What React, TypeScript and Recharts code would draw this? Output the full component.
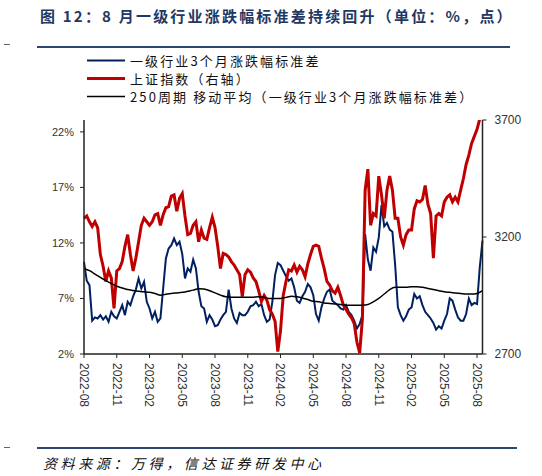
import React from 'react';
import { LineChart, Line, XAxis, YAxis } from 'recharts';

// x = months since 2022-08, one reading per quarter month
const STEP = 0.25;

const xTickLabels = [
  '2022-08', '2022-11', '2023-02', '2023-05', '2023-08', '2023-11', '2024-02',
  '2024-05', '2024-08', '2024-11', '2025-02', '2025-05', '2025-08',
];

const leftTicks = [2, 7, 12, 17, 22];
const rightTicks = [2700, 3200, 3700];

// 一级行业3个月涨跌幅标准差 (%)
const industryStd = [
  10.3, 8.6, 8.2, 5.0, 5.3, 5.2, 5.5, 5.1, 5.4, 4.9, 5.8, 5.4,
  5.2, 5.8, 6.4, 5.5, 6.7, 6.4, 7.2, 7.8, 8.8, 7.9, 8.5, 6.7,
  6.1, 5.2, 5.8, 4.9, 5.2, 7.9, 10.6, 11.5, 11.8, 12.4, 11.8, 12.1,
  11.0, 8.8, 9.7, 9.4, 10.5, 9.7, 7.6, 6.3, 6.1, 4.9, 5.5, 5.1,
  4.5, 4.6, 5.1, 5.5, 5.8, 7.8, 6.1, 5.2, 4.8, 5.7, 5.5, 5.5,
  5.8, 6.3, 6.4, 6.7, 6.3, 6.5, 5.5, 4.9, 5.1, 6.7, 9.1, 10.2,
  10.0, 9.5, 9.0, 8.6, 8.8, 8.0, 6.8, 6.6, 7.2, 7.6, 8.3, 8.0,
  7.3, 5.6, 5.0, 6.2, 7.0, 7.6, 7.8, 6.8, 6.6, 6.4, 6.1, 6.0,
  6.4, 5.8, 5.5, 5.0, 4.3, 4.7, 5.5, 12.8, 10.5, 9.5, 11.6, 11.2,
  12.5, 15.4, 13.5, 13.8, 13.2, 13.0, 10.0, 6.2, 5.5, 5.0, 5.4, 6.0,
  6.2, 7.4, 7.0, 7.2, 6.4, 5.8, 5.5, 5.2, 4.8, 4.2, 4.5, 4.3,
  5.0, 5.6, 7.0, 6.8, 6.0, 5.3, 5.0, 5.0, 5.6, 7.0, 6.4, 6.6,
  6.5, 9.8, 12.2,
];

// 上证指数 (右轴)
const shIndex = [
  3280, 3290, 3265, 3245, 3265, 3240, 3125, 3075, 3010, 3055, 3025, 2895,
  3055, 3065, 3095, 3160, 3210, 3125, 3055, 3110, 3180, 3250, 3280, 3265,
  3250, 3265, 3295, 3300, 3250, 3295, 3325, 3330, 3375, 3380, 3310, 3365,
  3385, 3290, 3210, 3215, 3250, 3265, 3180, 3230, 3195, 3190, 3240, 3285,
  3240, 3160, 3065, 3130, 3125, 3115, 3095, 3080, 3060, 3040, 2945, 3040,
  3060, 3050, 3025, 3010, 2970, 2925, 2950, 2930, 2890, 2870, 2840, 2710,
  2800, 2950, 3010, 3060, 3055, 3080, 3050, 3075, 3060, 3030, 3085, 3125,
  3160, 3165, 3160, 3110, 3065, 3010, 2995, 2970, 2960, 2985, 2950, 2910,
  2890, 2870, 2855, 2830, 2750, 2705, 2850, 3400, 3490, 3250, 3300, 3290,
  3460, 3380, 3280, 3400, 3460, 3400, 3280, 3280, 3200, 3165, 3210, 3230,
  3230, 3320, 3355, 3350, 3360, 3420, 3340, 3300, 3110, 3290, 3300, 3290,
  3350, 3370, 3380, 3350, 3370, 3350, 3400, 3450, 3510, 3550, 3600, 3630,
  3660, 3705, 3760,
];

// 250周期移动平均, one reading per half month
const MA_STEP = 0.5;
const movingAvg = [
  9.7, 9.5, 9.2, 8.9, 8.6, 8.35, 8.1, 7.95, 7.8, 7.72, 7.65, 7.6,
  7.55, 7.45, 7.3, 7.38, 7.45, 7.5, 7.55, 7.65, 7.75, 7.88, 7.85, 7.7,
  7.5, 7.3, 7.15, 7.12, 7.1, 7.1, 7.1, 7.12, 7.15, 7.1, 7.0, 7.0,
  7.0, 7.1, 7.2, 7.15, 7.05, 6.9, 6.75, 6.7, 6.6, 6.55, 6.5, 6.45,
  6.4, 6.4, 6.4, 6.4, 6.45, 6.7, 7.0, 7.4, 7.8, 8.0, 8.0, 8.0,
  8.05, 8.05, 8.0, 7.9, 7.8, 7.7, 7.6, 7.55, 7.5, 7.45, 7.4, 7.4,
  7.45, 7.7,
];

const rows = industryStd.map((v, i) => ({ m: i * STEP, std: v, sh: shIndex[i] }));
const maRows = movingAvg.map((v, i) => ({ m: i * MA_STEP, ma: v }));
const xTicks = xTickLabels.map((_, i) => i * 3);

const BLUE = '#002060';
const RED = '#C00000';
const NAVY = '#1F3864';
const tickFont = '"Liberation Sans", Arial, sans-serif';
const cjkFont = '"Noto Sans CJK SC", sans-serif';

const XTick = (props: any) => {
  const { x, y, payload } = props;
  const label = xTickLabels[Math.round(payload.value / 3)];
  return (
    <text
      transform={`translate(${x},${y + 3}) rotate(90)`}
      textAnchor="start"
      dy="0.35em"
      fontSize={12}
      fontFamily={tickFont}
      fill="#333"
    >
      {label}
    </text>
  );
};

const legendItems = [
  { name: '一级行业3个月涨跌幅标准差', color: BLUE, width: 2, top: 52 },
  { name: '上证指数（右轴）', color: RED, width: 3, top: 70 },
  { name: '250周期 移动平均（一级行业3个月涨跌幅标准差）', color: '#000', width: 1.5, top: 88 },
];

export default function App() {
  return (
    <div style={{ position: 'absolute', left: 0, top: 0, width: 542, height: 476, background: '#fff', overflow: 'hidden' }}>
      <div
        style={{
          position: 'absolute', left: 40, top: 5, fontFamily: cjkFont, fontWeight: 700,
          fontSize: 15, color: NAVY, letterSpacing: 2.2, whiteSpace: 'nowrap', lineHeight: '22px',
        }}
      >
        图 12：8 月一级行业涨跌幅标准差持续回升（单位：%，点）
      </div>
      <div style={{ position: 'absolute', left: 4, top: 44, width: 6, height: 1, background: '#666' }} />
      <div style={{ position: 'absolute', left: 37, top: 46, width: 473, height: 2, background: '#2E4570' }} />

      {legendItems.map((it) => (
        <div key={it.name} style={{ position: 'absolute', left: 87, top: it.top, height: 17, display: 'flex', alignItems: 'center', whiteSpace: 'nowrap' }}>
          <svg width={38} height={17} style={{ display: 'block' }}>
            <line x1={0} x2={38} y1={8.5} y2={8.5} stroke={it.color} strokeWidth={it.width} />
          </svg>
          <span style={{ marginLeft: 5, fontFamily: cjkFont, fontSize: 13, letterSpacing: 2.1, color: '#111', lineHeight: '17px' }}>
            {it.name}
          </span>
        </div>
      ))}

      <div style={{ position: 'absolute', left: 0, top: 0 }}>
        <LineChart width={542} height={476} data={rows} margin={{ top: 120, right: 0, bottom: 0, left: 0 }}>
          <XAxis
            dataKey="m"
            type="number"
            domain={[0, 36.5]}
            ticks={xTicks}
            interval={0}
            height={122}
            tick={<XTick />}
            tickSize={4}
            tickMargin={2}
            axisLine={{ stroke: '#222', strokeWidth: 1.5 }}
            tickLine={{ stroke: '#222' }}
          />
          <YAxis
            yAxisId="left"
            domain={[2, 23.07]}
            ticks={leftTicks}
            interval={0}
            width={84}
            tickSize={4}
            tickMargin={6}
            tickFormatter={(v: number) => `${v}%`}
            tick={{ fontSize: 11, fill: '#333', fontFamily: tickFont }}
            axisLine={{ stroke: '#222', strokeWidth: 1.5 }}
            tickLine={{ stroke: '#222' }}
            allowDataOverflow
          />
          <YAxis
            yAxisId="right"
            orientation="right"
            domain={[2700, 3700]}
            ticks={rightTicks}
            interval={0}
            width={59.5}
            tickSize={4}
            tickMargin={8}
            tick={{ fontSize: 12, fill: '#333', fontFamily: tickFont }}
            axisLine={{ stroke: '#222', strokeWidth: 1.5 }}
            tickLine={{ stroke: '#222' }}
            allowDataOverflow
          />
          <Line yAxisId="left" dataKey="std" stroke={BLUE} strokeWidth={2} dot={false} type="linear" isAnimationActive={false} />
          <Line yAxisId="right" dataKey="sh" stroke={RED} strokeWidth={3} dot={false} type="linear" isAnimationActive={false} />
          <Line yAxisId="left" data={maRows} dataKey="ma" stroke="#000" strokeWidth={1.5} dot={false} type="monotone" isAnimationActive={false} />
        </LineChart>
      </div>

      <div style={{ position: 'absolute', left: 4, top: 447, width: 6, height: 1, background: '#666' }} />
      <div style={{ position: 'absolute', left: 37, top: 447, width: 480, height: 2, background: '#2E4570' }} />
      <div
        style={{
          position: 'absolute', left: 43, top: 453, fontFamily: cjkFont, fontStyle: 'italic',
          fontSize: 14, letterSpacing: 3.6, color: '#111', whiteSpace: 'nowrap', lineHeight: '20px',
        }}
      >
        资料来源：万得，信达证券研发中心
      </div>
    </div>
  );
}
